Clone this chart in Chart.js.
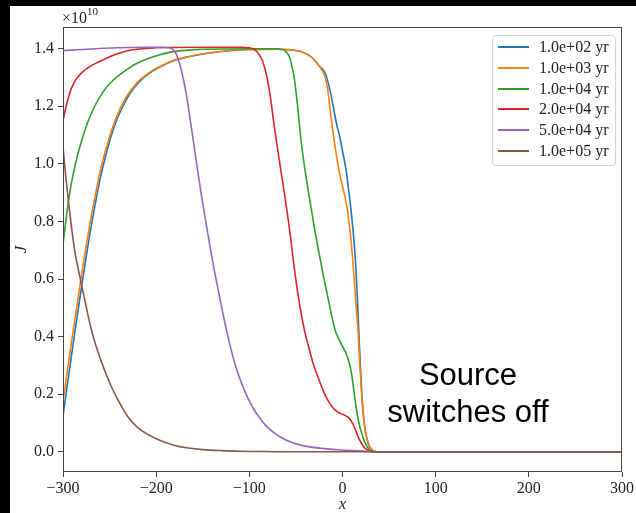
<!DOCTYPE html>
<html><head><meta charset="utf-8">
<script src="https://cdn.jsdelivr.net/npm/chart.js@4.4.1/dist/chart.umd.min.js"></script>
<style>
html,body{margin:0;padding:0;background:#fff;}
#wrap{position:relative;width:636px;height:513px;overflow:hidden;background:#fff;}
#c{position:absolute;left:0;top:0;}
.bar{position:absolute;background:#000;}
#legend{position:absolute;left:492px;top:35px;width:122px;height:129px;border:1px solid #d4d4d4;border-radius:4px;background:rgba(255,255,255,0.85);font-family:"Liberation Serif",serif;font-size:16px;color:#222;}
.row{position:absolute;left:0;width:120px;height:20px;}
.row .l{position:absolute;left:5px;top:9px;width:31px;height:2px;}
.row .t{position:absolute;left:46px;top:0;line-height:20px;white-space:nowrap;}
#mult{position:absolute;left:62px;top:7px;font-family:"Liberation Serif",serif;font-size:16px;color:#222;white-space:nowrap;}
#mult sup{font-size:11px;position:relative;top:-2px;}
#note{position:absolute;left:368px;top:356px;width:200px;text-align:center;font-family:"Liberation Sans",Arial,sans-serif;font-size:31px;line-height:37px;color:#000;}
</style></head>
<body>
<div id="wrap">
<canvas id="c" width="636" height="513"></canvas>
<div class="bar" style="left:0;top:0;width:10px;height:513px"></div>
<div class="bar" style="left:0;top:0;width:636px;height:6px"></div>
<div id="mult">×10<sup>10</sup></div>
<div id="legend"></div>
<div id="note">Source<br>switches off</div>
</div>
<script>
// J values in units of 1e10
const labels = ["1.0e+02 yr","1.0e+03 yr","1.0e+04 yr","2.0e+04 yr","5.0e+04 yr","1.0e+05 yr"];
const colors = ["#1f77b4","#ff7f0e","#2ca02c","#d62728","#9467bd","#8c564b"];

const x1e2 = [-300,-290,-280,-272,-266,-260,-254,-248,-242,-235,-228,-218,-207,-195,-182,-165,-146,-124,-100,-70,-55,-46,-40,-35,-30,-25,-22,-19,-16,-13,-10,-6.5,-3,0,4,7.5,10.4,12.9,14.5,16,18,20,22,24,26,29,32,36,40,300];
const y1e2 = [0.125,0.355,0.575,0.74,0.85,0.95,1.03,1.10,1.155,1.205,1.245,1.285,1.315,1.338,1.357,1.372,1.383,1.392,1.397,1.398,1.396,1.391,1.384,1.375,1.36,1.34,1.33,1.318,1.29,1.25,1.20,1.14,1.095,1.045,0.975,0.885,0.80,0.71,0.63,0.53,0.38,0.245,0.145,0.085,0.048,0.018,0.006,0.001,0,0];

const x1e3 = [-300,-290,-280,-272,-266,-260,-254,-248,-242,-235,-228,-218,-207,-195,-182,-165,-146,-124,-100,-70,-55,-46,-40,-35,-30,-25,-22,-19,-16,-13,-10,-7,-3,2,5.5,8.5,11,13,15,17,19,21,23,25,28,31,35,38,300];
const y1e3 = [0.175,0.40,0.615,0.775,0.88,0.975,1.05,1.115,1.168,1.215,1.252,1.29,1.318,1.34,1.359,1.373,1.384,1.393,1.397,1.398,1.396,1.391,1.384,1.375,1.36,1.34,1.325,1.305,1.26,1.18,1.105,1.04,0.965,0.895,0.835,0.755,0.665,0.58,0.49,0.40,0.28,0.175,0.105,0.062,0.026,0.009,0.001,0,0];

const x1e4 = [-300,-297,-293,-289,-284,-280,-274,-266,-257,-248,-239,-230,-220,-208.6,-195,-183.5,-165,-148,-100,-72,-66,-62,-59,-56.8,-54,-51.4,-47.9,-44.3,-38.9,-33.6,-30,-26.4,-21,-14,-8.6,-5,0,4,7.5,9.5,12.5,14.6,17,20,23.6,26,29,33,37,300];
const y1e4 = [0.72,0.80,0.895,0.965,1.035,1.08,1.14,1.20,1.25,1.285,1.31,1.331,1.35,1.366,1.38,1.389,1.395,1.398,1.40,1.40,1.398,1.393,1.383,1.37,1.335,1.29,1.19,1.075,0.95,0.845,0.775,0.71,0.62,0.51,0.43,0.398,0.366,0.34,0.305,0.275,0.205,0.155,0.11,0.07,0.036,0.02,0.007,0.001,0,0];

const x2e4 = [-300,-297,-294,-291,-287,-283,-278,-272.9,-265,-255,-246,-237,-225,-210,-190,-150,-110,-100,-96,-92,-89,-85.4,-81,-78,-73,-67.5,-62,-58,-55,-51.4,-46,-40.7,-36,-31.8,-27,-21,-17.5,-14,-10.4,-5,0,5,8,10.5,12.5,14.6,18,21.8,25,29,34,300];
const y2e4 = [1.15,1.195,1.232,1.262,1.288,1.306,1.322,1.334,1.349,1.364,1.377,1.387,1.396,1.401,1.404,1.405,1.405,1.403,1.399,1.39,1.377,1.354,1.30,1.245,1.125,1.005,0.89,0.80,0.725,0.63,0.51,0.42,0.36,0.31,0.265,0.215,0.19,0.17,0.153,0.138,0.13,0.122,0.113,0.10,0.087,0.07,0.043,0.022,0.01,0.003,0,0];

const x5e4 = [-300,-270,-240,-215,-195,-186,-182,-179,-176.5,-174.6,-170.5,-167.5,-162,-156.8,-151.4,-146,-140.7,-133.6,-126.4,-120,-114,-108,-102,-96,-89,-82,-73,-64,-55,-46,-35,-20,-5,10,25,34,300];
const y5e4 = [1.393,1.399,1.403,1.405,1.405,1.403,1.397,1.385,1.365,1.345,1.29,1.238,1.122,1.005,0.89,0.785,0.685,0.565,0.45,0.36,0.29,0.235,0.19,0.152,0.118,0.09,0.065,0.046,0.033,0.024,0.017,0.011,0.007,0.004,0.002,0,0];

const x1e5 = [-300,-297,-294,-290.7,-287,-283,-280,-276,-272.9,-268,-262,-255,-247.8,-240,-230,-220,-210,-201,-190,-180,-165.7,-150,-130,-110,-90,-60,300];
const y1e5 = [1.058,0.955,0.865,0.775,0.69,0.625,0.578,0.518,0.47,0.405,0.342,0.28,0.224,0.174,0.12,0.085,0.062,0.047,0.032,0.022,0.013,0.0075,0.004,0.002,0.001,0,0];

const seriesX = [x1e2,x1e3,x1e4,x2e4,x5e4,x1e5];
const seriesY = [y1e2,y1e3,y1e4,y2e4,y5e4,y1e5];

const xTickValues = [-300,-200,-100,0,100,200,300];
const yTickValues = [0,0.2,0.4,0.6,0.8,1.0,1.2,1.4];
const xMin = -300, xMax = 300, yMin = -0.0703, yMax = 1.4753;

const datasets = labels.map((lab,i)=>({
  label: lab,
  data: seriesX[i].map((x,k)=>({x:x, y:seriesY[i][k]})),
  borderColor: colors[i],
  backgroundColor: colors[i],
  borderWidth: 1.6,
  pointRadius: 0,
  fill: false,
  cubicInterpolationMode: 'monotone',
  order: labels.length - i
}));

// HTML legend built from the series names/colors
const leg = document.getElementById('legend');
labels.forEach((lab,i)=>{
  const r = document.createElement('div');
  r.className='row';
  r.style.top = (1 + i*20.8) + 'px';
  r.innerHTML = '<span class="l" style="background:'+colors[i]+'"></span><span class="t">'+lab+'</span>';
  leg.appendChild(r);
});

const serif = "'Liberation Serif', 'DejaVu Serif', serif";
const frame = {
  id:'frame',
  afterDraw(chart){
    const {ctx, chartArea:a} = chart;
    ctx.save();
    ctx.strokeStyle = '#444';
    ctx.lineWidth = 1;
    ctx.strokeRect(Math.round(a.left)+0.5, Math.round(a.top)+0.5, Math.round(a.right-a.left)-1, Math.round(a.bottom-a.top)-1);
    ctx.restore();
  }
};
const fmtX = v => v < 0 ? '\u2212' + Math.abs(v) : String(v);

new Chart(document.getElementById('c'), {
  type: 'line',
  data: { datasets },
  options: {
    responsive: false,
    animation: false,
    layout: { padding: { left: 10, right: 13, top: 27, bottom: 0 } },
    plugins: { legend: { display: false }, tooltip: { enabled: false } },
    scales: {
      x: {
        type: 'linear', min: xMin, max: xMax,
        afterBuildTicks: s => { s.ticks = xTickValues.map(v=>({value:v})); },
        afterFit: s => { s.height = 41; },
        border: { display: false },
        grid: { display: true, drawOnChartArea: false, drawTicks: true, tickLength: 5, tickColor: '#444', color: '#444' },
        ticks: { maxRotation: 0, autoSkip: false, padding: 2, color: '#222', font: { family: serif, size: 16 }, callback: v => fmtX(v) },
        title: { display: true, text: 'x', color: '#222', padding: { top: 0, bottom: 0 }, font: { family: serif, size: 17, style: 'italic', lineHeight: 1 } }
      },
      y: {
        type: 'linear', min: yMin, max: yMax,
        afterBuildTicks: s => { s.ticks = yTickValues.map(v=>({value:v})); },
        afterFit: s => { s.width = 53; },
        border: { display: false },
        grid: { display: true, drawOnChartArea: false, drawTicks: true, tickLength: 5, tickColor: '#444', color: '#444' },
        ticks: { padding: 4, color: '#222', font: { family: serif, size: 16 }, callback: v => Number(v).toFixed(1) },
        title: { display: true, text: 'J', color: '#222', padding: { top: 3, bottom: 0 }, font: { family: serif, size: 17, style: 'italic', lineHeight: 1 } }
      }
    }
  },
  plugins: [frame]
});
</script>
</body></html>
